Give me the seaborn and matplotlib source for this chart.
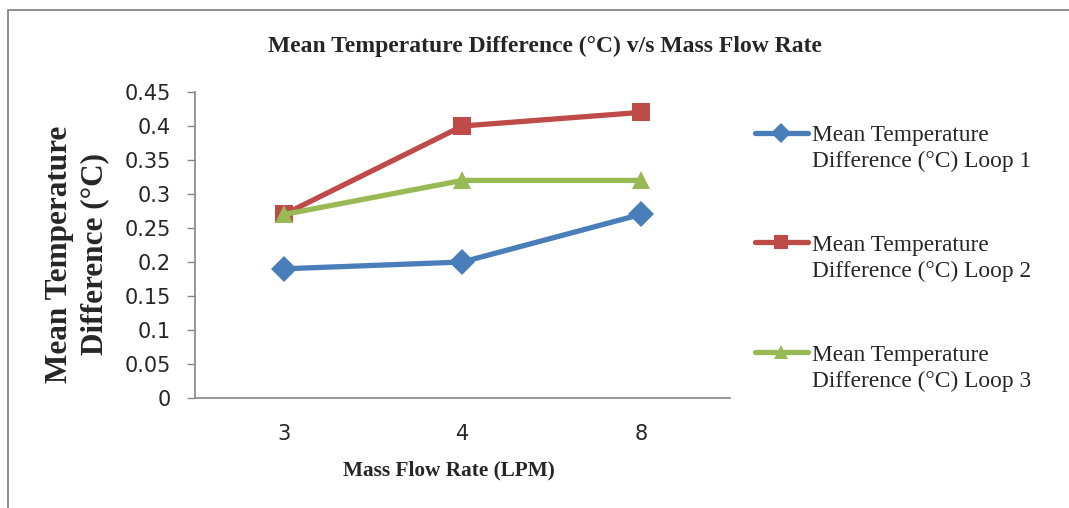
import matplotlib
matplotlib.use("Agg")
import matplotlib.pyplot as plt
import seaborn as sns
import pandas as pd
from matplotlib.patches import Rectangle

# ---- data ----
flow_rates = ["3", "4", "8"]
loop1 = [0.19, 0.20, 0.27]
loop2 = [0.27, 0.40, 0.42]
loop3 = [0.27, 0.32, 0.32]
legend_line1 = ["Mean Temperature", "Mean Temperature", "Mean Temperature"]
legend_line2 = ["Difference (°C) Loop 1", "Difference (°C) Loop 2", "Difference (°C) Loop 3"]
series_names = ["Loop 1", "Loop 2", "Loop 3"]
y_ticks = [0, 0.05, 0.1, 0.15, 0.2, 0.25, 0.3, 0.35, 0.4, 0.45]
y_tick_labels = ["0", "0.05", "0.1", "0.15", "0.2", "0.25", "0.3", "0.35", "0.4", "0.45"]

rows = []
for name, vals in zip(series_names, [loop1, loop2, loop3]):
    for x, v in zip(flow_rates, vals):
        rows.append({"Flow": x, "Value": v, "Series": name})
df = pd.DataFrame(rows)

sns.set_theme(style="white")
plt.rcParams["font.family"] = ["DejaVu Sans"]

W, H = 1069, 508
fig = plt.figure(figsize=(W / 100, H / 100), dpi=100)
ax = fig.add_axes([195 / W, 1 - 398 / H, 535 / W, 306 / H])

colors = ["#4A7EBB", "#BE4B48", "#98B954"]
palette = dict(zip(series_names, colors))
markers = dict(zip(series_names, ["D", "s", "^"]))

sns.lineplot(data=df, x="Flow", y="Value", hue="Series", style="Series",
             palette=palette, markers=markers, dashes=False, sort=False,
             linewidth=3.8, markersize=13, markeredgewidth=0, ax=ax, legend=True)

ax.set_xlim(-0.5, 2.5)
ax.set_ylim(0, 0.45)
ax.set_yticks(y_ticks)
ax.set_yticklabels(y_tick_labels)
ax.set_xticks(range(len(flow_rates)))
ax.set_xticklabels(flow_rates)
ax.tick_params(axis="y", which="major", length=5.5, width=1, color="#868686",
               direction="out", left=True, labelsize=15, pad=12)
ax.tick_params(axis="x", length=0, labelsize=15, pad=19)
for s in ["top", "right"]:
    ax.spines[s].set_visible(False)
for s in ["left", "bottom"]:
    ax.spines[s].set_color("#868686")
    ax.spines[s].set_linewidth(1.2)

ax.set_xlabel("")
fig.text(449 / W, 1 - 470 / H, "Mass Flow Rate (LPM)", family="Liberation Serif",
         fontweight="bold", fontsize=15.3, ha="center", va="center")
ax.set_ylabel("Mean Temperature\nDifference (°C)", family="Liberation Serif",
              fontweight="bold", fontsize=22.5, linespacing=1.3)
ax.yaxis.set_label_coords(-0.16, 0.47)
fig.text(545 / W, 1 - 46 / H, "Mean Temperature Difference (°C) v/s Mass Flow Rate",
         family="Liberation Serif", fontweight="bold", fontsize=17,
         ha="center", va="center")

handles, _ = ax.get_legend_handles_labels()
ax.get_legend().remove()
leg = fig.legend(handles, legend_line1, loc="center left",
                 bbox_to_anchor=(755 / W, 1 - 245 / H),
                 frameon=False, prop={"family": "Liberation Serif", "size": 16.8},
                 handlelength=2.25, handletextpad=0.18, labelspacing=3.8, borderpad=0,
                 borderaxespad=0, markerscale=0.75)

fig.canvas.draw()
for t, second in zip(leg.get_texts(), legend_line2):
    bb = t.get_window_extent()
    fig.text(bb.x0, bb.y0 - 5, second, family="Liberation Serif", fontsize=16.8,
             ha="left", va="top", transform=None)

fig.patches.append(Rectangle((8 / W, -0.1), 1.2, (1 - 10.5 / H) + 0.1,
                             transform=fig.transFigure, fill=False,
                             edgecolor="#868686", linewidth=1.3))

fig.savefig("out.png", dpi=100)
